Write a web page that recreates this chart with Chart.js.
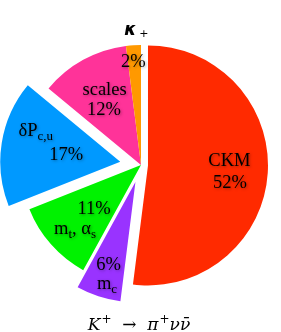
<!DOCTYPE html>
<html>
<head>
<meta charset="utf-8">
<script src="https://cdn.jsdelivr.net/npm/chart.js@4.4.0/dist/chart.umd.min.js"></script>
<style>
  html, body { margin: 0; padding: 0; background: #fff; }
  #wrap { width: 281px; height: 332px; position: relative; }
</style>
</head>
<body>
<div id="wrap"><canvas id="chart"></canvas></div>
<script>
// slices, clockwise from 12 o'clock
const categories = ["CKM", "m_{c}", "m_{t}, α_{s}", "δP_{c,u}", "scales", "κ_{+}"];
const shares = [52, 6, 11, 17, 12, 2];
const chartTitle = "K^{+} → π^{+}νν̄";

const colors = ["#ff2a00", "#9933ff", "#00f200", "#0099ff", "#ff3399", "#ff9900"];
// how far each slice is pulled out of the pie (px)
const explode = [7, 18, 0, 21, 0, 0];
// text placement: fraction of radius along slice middle, then nudges for each line
const labelStyle = [
  { f: 0.68, name: [0, -4.5], pct: [0.5, 17.5] },
  { f: 0.75, name: [-0.6, 21.3], pct: [1, 2.3] },
  { f: 0.6, name: [-12, 21.4], pct: [7, 1.4] },
  { f: 0.46, name: [-30, -17], pct: [0.5, 7] },
  { f: 0.63, name: [0, -3.8], pct: [-0.6, 16.2] },
  { f: 0.875, name: [2, -25], pct: [-1, 6.8], outside: true },
];

function parts(str) {
  const out = [];
  str.split(/(_\{[^}]*\}|\^\{[^}]*\})/).forEach((p) => {
    if (!p) return;
    if (p[0] === "_") out.push({ t: p.slice(2, -1), k: "sub" });
    else if (p[0] === "^") out.push({ t: p.slice(2, -1), k: "sup" });
    else out.push({ t: p, k: "n" });
  });
  return out;
}

function drawRich(ctx, str, x, y, o) {
  const segs = parts(str);
  let w = 0;
  segs.forEach((s) => {
    ctx.font = s.k === "n" ? o.main : o.small;
    s.w = ctx.measureText(s.t).width;
    s.gap = s.k === "n" ? 0 : o.gap || 0;
    w += s.w + s.gap;
  });
  let cx = x - w / 2;
  ctx.textAlign = "left";
  ctx.textBaseline = "alphabetic";
  segs.forEach((s) => {
    ctx.font = s.k === "n" ? o.main : o.small;
    cx += s.gap;
    let dy = 0;
    if (s.k === "sub") dy = o.drop;
    if (s.k === "sup") dy = -o.rise;
    ctx.fillText(s.t, cx, y + dy);
    cx += s.w;
  });
}

const explodePlugin = {
  id: "explode",
  beforeDatasetDraw(chart, args) {
    args.meta.data.forEach((arc, i) => {
      const d = explode[i] || 0;
      const mid = (arc.startAngle + arc.endAngle) / 2;
      arc._home = [arc.x, arc.y];
      arc.x += Math.cos(mid) * d;
      arc.y += Math.sin(mid) * d;
    });
  },
  afterDatasetDraw(chart, args) {
    args.meta.data.forEach((arc) => {
      arc.x = arc._home[0];
      arc.y = arc._home[1];
    });
  },
};

const labelPlugin = {
  id: "sliceLabels",
  afterDatasetsDraw(chart) {
    const ctx = chart.ctx;
    const arcs = chart.getDatasetMeta(0).data;
    ctx.save();
    ctx.fillStyle = "#000";
    arcs.forEach((arc, i) => {
      const st = labelStyle[i];
      const mid = (arc.startAngle + arc.endAngle) / 2;
      const vx = arc.x + Math.cos(mid) * explode[i];
      const vy = arc.y + Math.sin(mid) * explode[i];
      const ax = vx + Math.cos(mid) * arc.outerRadius * st.f;
      const ay = vy + Math.sin(mid) * arc.outerRadius * st.f;

      ctx.shadowColor = "rgba(0,0,0,0.35)";
      ctx.shadowBlur = 3;
      ctx.shadowOffsetX = 1;
      ctx.shadowOffsetY = 1;
      const serif = { main: "18.5px 'Liberation Serif'", small: "13px 'Liberation Serif'", drop: 3.5, rise: 7 };
      drawRich(ctx, shares[i] + "%", ax + st.pct[0], ay + st.pct[1], serif);
      if (st.outside) {
        ctx.shadowColor = "transparent";
        drawRich(ctx, categories[i], ax + st.name[0], ay + st.name[1], {
          main: "bold italic 17px 'DejaVu Sans'",
          small: "11px 'DejaVu Sans'",
          drop: 2,
          gap: 3,
        });
      } else {
        drawRich(ctx, categories[i], ax + st.name[0], ay + st.name[1], serif);
      }
    });
    ctx.shadowColor = "transparent";
    drawRich(ctx, chartTitle.replace(" → ", "  →  "), 139, 330, {
      main: "italic 17px 'DejaVu Serif'",
      small: "12px 'DejaVu Serif'",
      rise: 7,
      gap: 1,
    });
    ctx.restore();
  },
};

new Chart(document.getElementById("chart"), {
  type: "pie",
  data: {
    labels: categories,
    datasets: [
      {
        data: shares,
        backgroundColor: colors,
        borderWidth: 0,
        radius: 120,
      },
    ],
  },
  options: {
    responsive: true,
    maintainAspectRatio: false,
    animation: false,
    events: [],
    layout: { padding: { left: 21, right: 20, top: 43, bottom: 45 } },
    plugins: {
      legend: { display: false },
      tooltip: { enabled: false },
    },
  },
  plugins: [explodePlugin, labelPlugin],
});
</script>
</body>
</html>
